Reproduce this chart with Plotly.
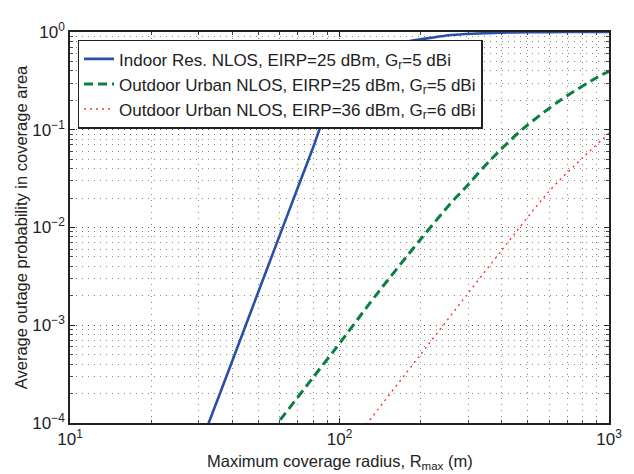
import plotly.graph_objects as go

# Data
r_indoor = [30, 32.7, 40, 50, 60, 70, 80, 86.3, 100, 120, 150, 180, 223, 260, 310, 400, 500, 700, 1000]
p_indoor = [5.3e-5, 1.0e-4, 4.3e-4, 2.2e-3, 8.3e-3, 0.0255, 0.067, 0.118, 0.22, 0.42, 0.65, 0.8, 0.88, 0.93, 0.96, 0.985, 0.995, 0.999, 1.0]

r_out25 = [56, 59, 80, 96.4, 136, 198.6, 260, 291, 363, 479, 668, 931, 1000]
p_out25 = [8.3e-5, 1.0e-4, 2.95e-4, 5.7e-4, 2.0e-3, 7.4e-3, 0.018, 0.025, 0.049, 0.102, 0.205, 0.36, 0.395]

r_out36 = [122, 127, 198.6, 299, 397, 598, 800, 1000]
p_out36 = [8.6e-5, 1.0e-4, 4.9e-4, 2.1e-3, 5.7e-3, 0.0233, 0.052, 0.092]

names = [
    "Indoor Res. NLOS, EIRP=25 dBm, G<sub>r</sub>=5 dBi",
    "Outdoor Urban NLOS, EIRP=25 dBm, G<sub>r</sub>=5 dBi",
    "Outdoor Urban NLOS, EIRP=36 dBm, G<sub>r</sub>=6 dBi",
]
x_title = "Maximum coverage radius, R<sub>max</sub> (m)"
y_title = "Average outage probability in coverage area"

x_tickvals = [10, 100, 1000]
x_ticktext = ["10<sup>1</sup>", "10<sup>2</sup>", "10<sup>3</sup>"]
y_tickvals = [1e-4, 1e-3, 1e-2, 1e-1, 1]
y_ticktext = ["10<sup>−4</sup>", "10<sup>−3</sup>", "10<sup>−2</sup>", "10<sup>−1</sup>", "10<sup>0</sup>"]

FONT = "Liberation Sans, Arial, sans-serif"

fig = go.Figure()
fig.add_trace(go.Scatter(x=r_indoor, y=p_indoor, mode="lines", name=names[0],
                         line=dict(color="#2b4fa8", width=2.6, shape="spline", smoothing=0.6)))
fig.add_trace(go.Scatter(x=r_out25, y=p_out25, mode="lines", name=names[1],
                         line=dict(color="#0a8040", width=3, dash="9px,5px", shape="spline", smoothing=0.8)))
fig.add_trace(go.Scatter(x=r_out36, y=p_out36, mode="lines", name=names[2],
                         line=dict(color="#ff3030", width=1.4, dash="2px,4px", shape="spline", smoothing=0.8)))

axis_common = dict(
    type="log",
    showline=True, linecolor="#222", linewidth=1.5, mirror="allticks",
    ticks="inside", ticklen=5, tickcolor="#222",
    showgrid=True, gridcolor="#555", griddash="1px,5px", gridwidth=1,
    zeroline=False,
    tickfont=dict(family=FONT, size=17, color="#222"),
    minor=dict(dtick="D1", ticks="inside", ticklen=3, tickcolor="#444",
               showgrid=True, gridcolor="#888", griddash="1px,5px", gridwidth=1),
)

fig.update_xaxes(**axis_common, range=[1, 3], tickvals=x_tickvals, ticktext=x_ticktext)
fig.update_yaxes(**axis_common, range=[-4, 0], tickvals=y_tickvals, ticktext=y_ticktext,
                 title=dict(text=y_title,
                            font=dict(family=FONT, size=16.5, color="#222"), standoff=1))

fig.add_annotation(text=x_title, x=0.5, y=0, xref="paper", yref="paper",
                   xanchor="center", yanchor="top", yshift=-27, showarrow=False,
                   font=dict(family=FONT, size=16.5, color="#222"))

# page body adds an 8px offset, so the canvas is reduced accordingly
fig.update_layout(
    width=626, height=466,
    margin=dict(l=59, r=12, t=13, b=51),
    paper_bgcolor="white", plot_bgcolor="white",
    font=dict(family=FONT, color="#222"),
    legend=dict(x=0.014, y=0.98, xanchor="left", yanchor="top",
                bgcolor="white", bordercolor="#222", borderwidth=1.5,
                font=dict(family=FONT, size=17, color="#222"),
                tracegroupgap=0),
    showlegend=True,
)

fig.write_html("out.html", config={"displayModeBar": False})
